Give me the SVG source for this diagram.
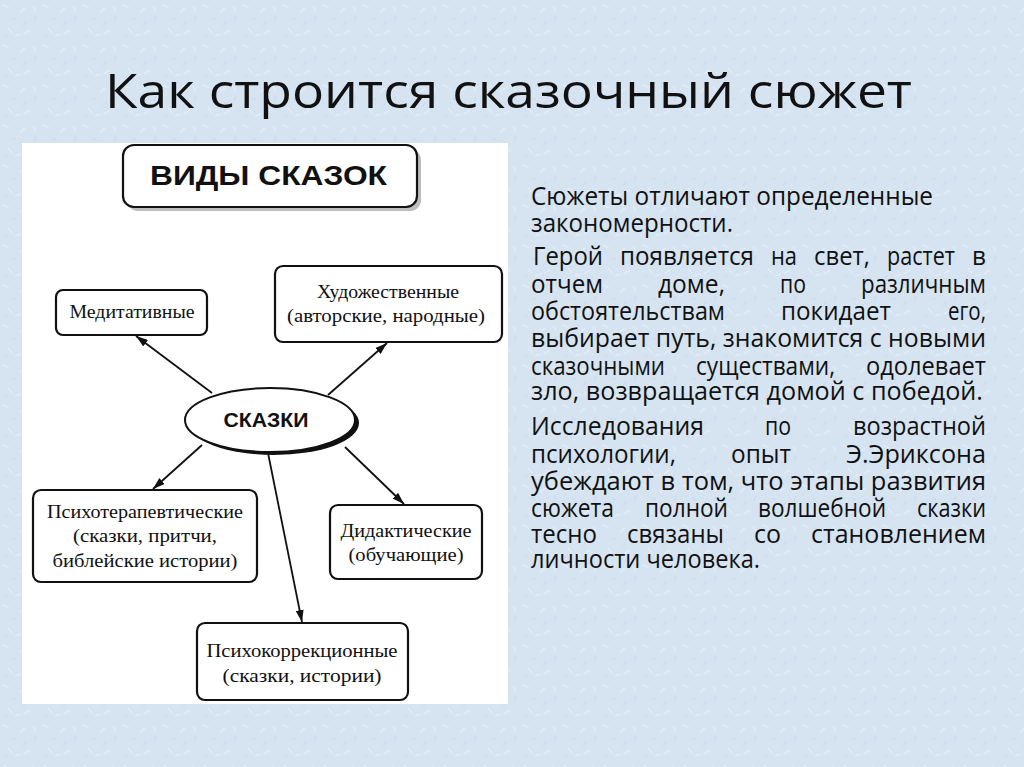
<svg xmlns="http://www.w3.org/2000/svg" width="1024" height="767" viewBox="0 0 1024 767">
<defs>
<style>
.node rect{fill:#fff;stroke:#111;stroke-width:2.2}
.lbl{font-family:"Liberation Serif","Times New Roman",serif;font-size:19px;fill:#111;text-anchor:middle}
.body text{font-family:"Open Sans","Noto Sans",sans-serif;font-size:25px;fill:#111}
.conn line{stroke:#111;stroke-width:1.8}
</style>
<marker id="ah" viewBox="0 0 12 8" refX="12" refY="4" markerWidth="12" markerHeight="8" markerUnits="userSpaceOnUse" orient="auto">
<path d="M0,0 L12,4 L0,8 Z" fill="#111"/>
</marker>
<pattern id="tex" width="40" height="40" patternUnits="userSpaceOnUse">
<rect width="40" height="40" fill="#d6e4f2"/>
<path d="M3,5 l6,3 M20,12 l5,-4 M30,30 l-6,4 M8,28 l4,5 M33,6 l3,5 M15,36 l6,-2" stroke="#e6eff8" stroke-width="1.2"/>
<path d="M12,18 l4,2 M26,22 l-3,4 M36,16 l-2,5 M5,38 l3,-3" stroke="#c8d9ec" stroke-width="1"/>
</pattern>
</defs>
<rect width="1024" height="767" fill="url(#tex)"/>
<text x="105" y="108" font-family="'Open Sans','Noto Sans',sans-serif" font-size="47" fill="#111" textLength="807" lengthAdjust="spacingAndGlyphs">Как строится сказочный сюжет</text>
<rect x="22" y="143" width="486" height="561" fill="#fff"/>
<g class="conn">
<line x1="212" y1="393" x2="136" y2="336" marker-end="url(#ah)"/>
<line x1="328" y1="395" x2="387" y2="343" marker-end="url(#ah)"/>
<line x1="202" y1="445" x2="153" y2="489" marker-end="url(#ah)"/>
<line x1="268" y1="453" x2="302" y2="622" marker-end="url(#ah)"/>
<line x1="345" y1="447" x2="404" y2="504" marker-end="url(#ah)"/>
</g>
<g id="vidy" class="node">
<rect x="127" y="149" width="294" height="62" rx="11" style="fill:#bdbdbd;stroke:none"/>
<rect x="123" y="145" width="294" height="62" rx="11"/>
<text x="150" y="185" font-family="'Liberation Sans',Arial,sans-serif" font-weight="bold" font-size="28" fill="#111" textLength="237" lengthAdjust="spacingAndGlyphs">ВИДЫ СКАЗОК</text>
</g>
<g id="skazki">
<ellipse cx="274" cy="423" rx="85" ry="32" fill="#111"/>
<ellipse cx="270" cy="420" rx="85" ry="32" fill="#fff" stroke="#111" stroke-width="2"/>
<text x="266" y="427" font-family="'Liberation Sans',Arial,sans-serif" font-weight="bold" font-size="21" fill="#111" text-anchor="middle" textLength="85" lengthAdjust="spacingAndGlyphs">СКАЗКИ</text>
</g>
<g id="medit" class="node">
<rect x="56" y="290" width="151" height="45" rx="7"/>
<text class="lbl" x="132" y="318" textLength="125" lengthAdjust="spacingAndGlyphs">Медитативные</text>
</g>
<g id="hudozh" class="node">
<rect x="275" y="266" width="227" height="76" rx="8"/>
<text class="lbl" x="388" y="298" textLength="142" lengthAdjust="spacingAndGlyphs">Художественные</text>
<text class="lbl" x="386" y="322" textLength="198" lengthAdjust="spacingAndGlyphs">(авторские, народные)</text>
</g>
<g id="psihoter" class="node">
<rect x="33" y="490" width="224" height="92" rx="8"/>
<text class="lbl" x="145" y="518" textLength="196" lengthAdjust="spacingAndGlyphs">Психотерапевтические</text>
<text class="lbl" x="145" y="542" textLength="144" lengthAdjust="spacingAndGlyphs">(сказки, притчи,</text>
<text class="lbl" x="145" y="567" textLength="185" lengthAdjust="spacingAndGlyphs">библейские истории)</text>
</g>
<g id="didakt" class="node">
<rect x="330" y="505" width="152" height="74" rx="8"/>
<text class="lbl" x="406" y="537" textLength="131" lengthAdjust="spacingAndGlyphs">Дидактические</text>
<text class="lbl" x="406" y="561" textLength="115" lengthAdjust="spacingAndGlyphs">(обучающие)</text>
</g>
<g id="psihokor" class="node">
<rect x="197" y="623" width="211" height="77" rx="8"/>
<text class="lbl" x="302" y="657" textLength="191" lengthAdjust="spacingAndGlyphs">Психокоррекционные</text>
<text class="lbl" x="302" y="682" textLength="159" lengthAdjust="spacingAndGlyphs">(сказки, истории)</text>
</g>
<g id="bodytext" class="body">
<text x="531" y="205" textLength="402" lengthAdjust="spacingAndGlyphs">Сюжеты отличают определенные</text>
<text x="531" y="232" textLength="202" lengthAdjust="spacingAndGlyphs">закономерности.</text>
<text x="533" y="265" textLength="70" lengthAdjust="spacingAndGlyphs">Герой</text>
<text x="620" y="265" textLength="134" lengthAdjust="spacingAndGlyphs">появляется</text>
<text x="771" y="265" textLength="26" lengthAdjust="spacingAndGlyphs">на</text>
<text x="814" y="265" textLength="56" lengthAdjust="spacingAndGlyphs">свет,</text>
<text x="887" y="265" textLength="68" lengthAdjust="spacingAndGlyphs">растет</text>
<text x="972" y="265" textLength="14" lengthAdjust="spacingAndGlyphs">в</text>
<text x="531" y="293" textLength="72" lengthAdjust="spacingAndGlyphs">отчем</text>
<text x="658" y="293" textLength="67" lengthAdjust="spacingAndGlyphs">доме,</text>
<text x="780" y="293" textLength="26" lengthAdjust="spacingAndGlyphs">по</text>
<text x="861" y="293" textLength="125" lengthAdjust="spacingAndGlyphs">различным</text>
<text x="531" y="320" textLength="194" lengthAdjust="spacingAndGlyphs">обстоятельствам</text>
<text x="781" y="320" textLength="110" lengthAdjust="spacingAndGlyphs">покидает</text>
<text x="948" y="320" textLength="38" lengthAdjust="spacingAndGlyphs">его,</text>
<text x="531" y="347" textLength="455" lengthAdjust="spacingAndGlyphs">выбирает путь, знакомится с новыми</text>
<text x="531" y="375" textLength="134" lengthAdjust="spacingAndGlyphs">сказочными</text>
<text x="696" y="375" textLength="139" lengthAdjust="spacingAndGlyphs">существами,</text>
<text x="866" y="375" textLength="120" lengthAdjust="spacingAndGlyphs">одолевает</text>
<text x="531" y="400" textLength="452" lengthAdjust="spacingAndGlyphs">зло, возвращается домой с победой.</text>
<text x="531" y="435" textLength="173" lengthAdjust="spacingAndGlyphs">Исследования</text>
<text x="765" y="435" textLength="26" lengthAdjust="spacingAndGlyphs">по</text>
<text x="853" y="435" textLength="133" lengthAdjust="spacingAndGlyphs">возрастной</text>
<text x="531" y="463" textLength="145" lengthAdjust="spacingAndGlyphs">психологии,</text>
<text x="731" y="463" textLength="60" lengthAdjust="spacingAndGlyphs">опыт</text>
<text x="846" y="463" textLength="140" lengthAdjust="spacingAndGlyphs">Э.Эриксона</text>
<text x="531" y="490" textLength="455" lengthAdjust="spacingAndGlyphs">убеждают в том, что этапы развития</text>
<text x="531" y="517" textLength="83" lengthAdjust="spacingAndGlyphs">сюжета</text>
<text x="645" y="517" textLength="83" lengthAdjust="spacingAndGlyphs">полной</text>
<text x="758" y="517" textLength="128" lengthAdjust="spacingAndGlyphs">волшебной</text>
<text x="917" y="517" textLength="69" lengthAdjust="spacingAndGlyphs">сказки</text>
<text x="531" y="543" textLength="66" lengthAdjust="spacingAndGlyphs">тесно</text>
<text x="627" y="543" textLength="97" lengthAdjust="spacingAndGlyphs">связаны</text>
<text x="754" y="543" textLength="27" lengthAdjust="spacingAndGlyphs">со</text>
<text x="811" y="543" textLength="175" lengthAdjust="spacingAndGlyphs">становлением</text>
<text x="531" y="568" textLength="229" lengthAdjust="spacingAndGlyphs">личности человека.</text>
</g>
</svg>
